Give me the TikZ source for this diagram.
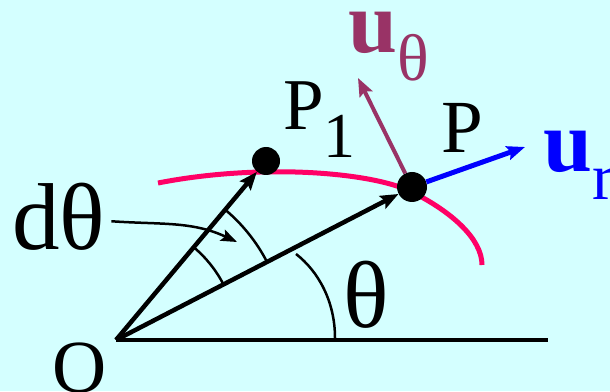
\documentclass[tikz,border=0pt]{standalone}
\usepackage{fontspec}
\setmainfont{Liberation Serif}
\usepackage{tikz}
\usetikzlibrary{arrows.meta}
\definecolor{bgcyan}{RGB}{212,255,255}
\definecolor{curvered}{RGB}{255,0,102}
\definecolor{utheta}{RGB}{153,51,102}

\begin{document}
\begin{tikzpicture}[x=1pt, y=1pt,
    lab/.style={inner sep=0pt, anchor=base west},
    dot/.style={circle, fill=black, inner sep=0pt, minimum size=28pt},
    arr/.style={-{Stealth[length=18pt,width=14pt,inset=3pt]}, line width=4.5pt},
    thinarr/.style={-{Stealth[length=16pt,width=12pt,inset=3pt]}, line width=2.5pt},
    anglearc/.style={line width=2.5pt}
]
    \fill[bgcyan] (0,0) rectangle (610,391);
    \useasboundingbox (0,0) rectangle (610,391);

    \coordinate (O) at (116,51);
    \coordinate (xend) at (548,51);
    \coordinate (urtip) at (525,244);
    \coordinate (uttip) at (358,313);
    \coordinate (dthtip) at (237,149);

    % path of the point
    \draw[curvered, line width=5pt] (158,208) .. controls (260,228) and (372,219) .. (412,199)
        .. controls (452,179) and (482,152) .. (482,126);

    \node[dot] (P1) at (266,230) {};
    \node[dot, minimum size=30pt] (P) at (412,204) {};

    \draw[line width=4pt] (O) -- (xend);
    \draw[arr] (O) -- (P1);
    \draw[arr] (O) -- (P);
    \draw[arr, blue, line width=5pt] (P) -- (urtip);
    \draw[arr, utheta, line width=4pt] (P) -- (uttip);

    % angles
    \draw[anglearc] (296,137) .. controls (318,120) and (335,90) .. (335,53);
    \draw[anglearc] (O) ++(27.3:121) arc[start angle=27.3, end angle=50, radius=121];
    \draw[anglearc] (O) ++(27.3:170) arc[start angle=27.3, end angle=50, radius=170];

    \node[lab, font=\fontsize{95}{95}\selectfont] (labdth) at (12,141) {dθ};
    \node[lab, font=\fontsize{95}{95}\selectfont] (labth) at (343,64) {θ};
    \node[lab, font=\fontsize{75}{75}\selectfont] (labO) at (52,-1) {O};
    \node[lab, font=\fontsize{73}{73}\selectfont] (labP1) at (283,261) {P\raisebox{-28pt}{\fontsize{64}{64}\selectfont 1}};
    \node[lab, font=\fontsize{75}{75}\selectfont] (labP) at (441,238) {P};
    \node[lab, text=utheta, font=\fontsize{88}{88}\selectfont\bfseries] (labut) at (348,338) {u\raisebox{-28pt}{\fontsize{66}{66}\selectfont\mdseries θ}};
    \node[lab, text=blue, font=\fontsize{88}{88}\selectfont\bfseries] (labur) at (543,219) {u\raisebox{-28pt}{\fontsize{66}{66}\selectfont\mdseries r}};

    \draw[thinarr] ([xshift=6pt,yshift=-4pt]labdth.east) to[out=-4, in=155] (dthtip);
\end{tikzpicture}
\end{document}
